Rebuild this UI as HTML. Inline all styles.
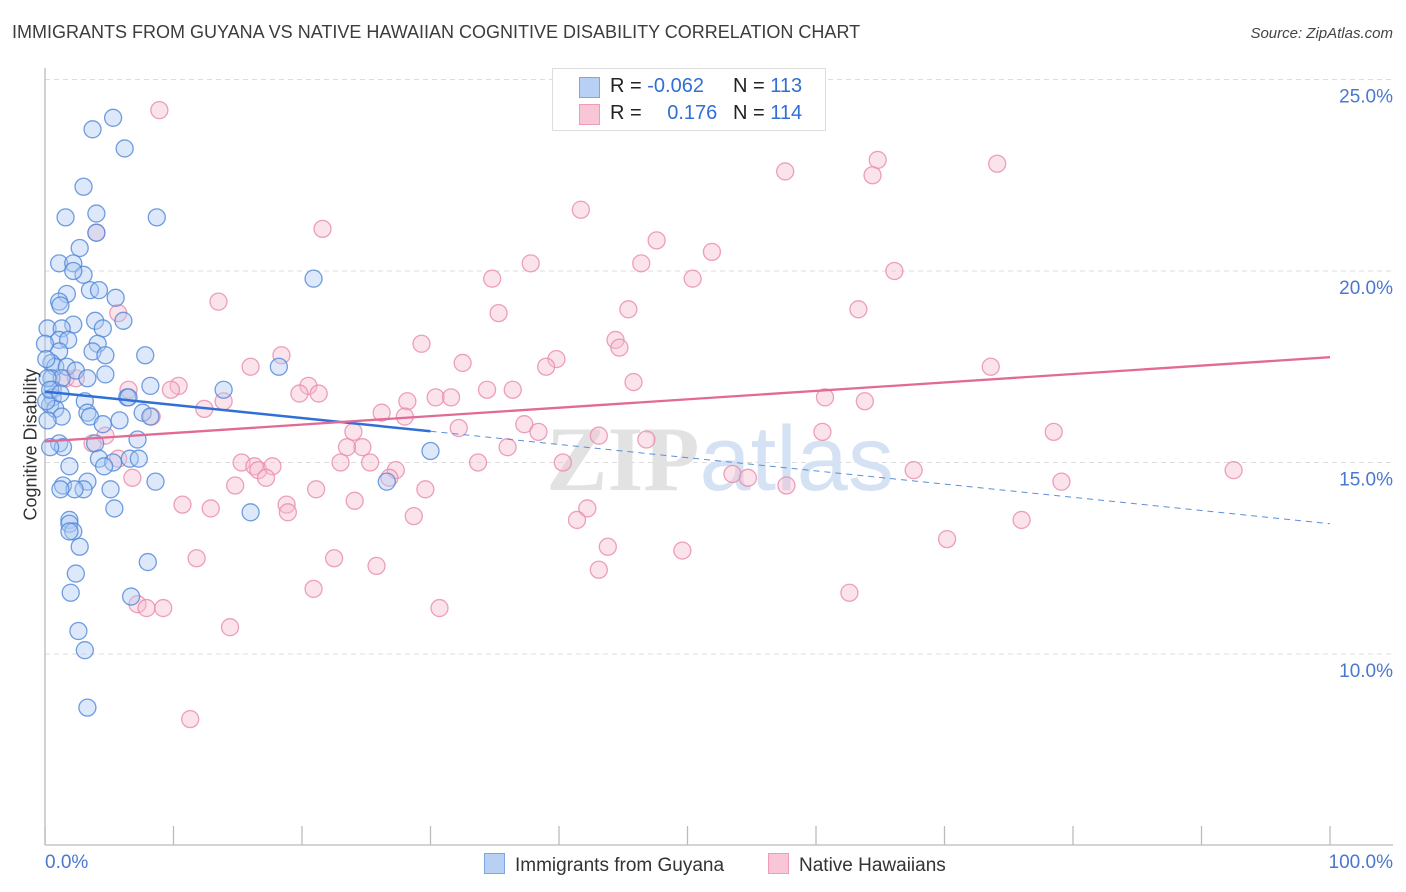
<!DOCTYPE html>
<html><head><meta charset="utf-8"><style>
body{margin:0;background:#fff;font-family:"Liberation Sans",sans-serif;}
#wrap{position:relative;width:1406px;height:892px;overflow:hidden;}
.t{position:absolute;white-space:nowrap;}
</style></head><body>
<div id="wrap">
<div class="t" style="left:12px;top:22px;font-size:18px;color:#3c3c3c;">IMMIGRANTS FROM GUYANA VS NATIVE HAWAIIAN COGNITIVE DISABILITY CORRELATION CHART</div>
<div class="t" style="right:13px;top:25px;font-size:15px;color:#444;font-style:italic;">Source: ZipAtlas.com</div>
<svg id="svg" width="1406" height="892" style="position:absolute;left:0;top:0"></svg>
</div>
<script>
const blueX=[5.3,3.7,6.2,3.0,4.0,1.6,8.7,4.0,2.7,1.1,2.2,3.0,2.2,20.9,3.5,4.2,1.7,5.5,1.1,1.2,3.9,6.1,2.2,4.5,0.2,1.3,1.1,1.8,4.1,3.7,7.8,4.7,1.1,0.5,0.8,1.7,2.4,4.7,3.3,0.5,1.3,18.2,13.9,8.2,0.6,0.6,6.4,6.5,3.1,0.4,0.8,3.3,3.5,7.6,8.2,5.8,4.5,1.3,7.2,3.9,1.1,1.4,0.4,30.0,4.2,5.3,6.6,7.3,4.6,1.9,8.6,3.3,3.0,1.4,2.3,5.1,26.6,1.2,5.4,16.0,1.9,1.9,2.2,1.9,2.7,8.0,2.4,2.0,6.7,2.6,3.1,3.3,0.0,0.2,0.1,0.4,1.2,0.1,0.2];
const blueY=[24.0,23.7,23.2,22.2,21.5,21.4,21.4,21.0,20.6,20.2,20.2,19.9,20.0,19.8,19.5,19.5,19.4,19.3,19.2,19.1,18.7,18.7,18.6,18.5,18.5,18.5,18.2,18.2,18.1,17.9,17.8,17.8,17.9,17.6,17.5,17.5,17.4,17.3,17.2,17.2,17.2,17.5,16.9,17.0,16.9,16.7,16.7,16.7,16.6,16.5,16.4,16.3,16.2,16.3,16.2,16.1,16.0,16.2,15.6,15.5,15.5,15.4,15.4,15.3,15.1,15.0,15.1,15.1,14.9,14.9,14.5,14.5,14.3,14.4,14.3,14.3,14.5,14.3,13.8,13.7,13.5,13.4,13.2,13.2,12.8,12.4,12.1,11.6,11.5,10.6,10.1,8.6,18.1,17.2,16.6,16.9,16.8,17.7,16.1];
const pinkX=[8.9,57.6,64.8,64.4,74.1,41.7,21.6,4.0,47.6,51.9,37.8,46.4,66.1,34.8,50.4,13.5,63.3,35.3,45.4,5.7,29.3,44.4,44.7,18.4,39.8,32.5,16.0,39.0,73.6,10.4,20.5,6.5,34.4,36.4,45.8,1.6,2.4,9.8,19.8,21.3,13.9,28.2,30.4,31.6,60.7,63.8,12.4,26.2,28.0,8.3,37.3,32.2,38.4,24.0,60.5,78.5,43.1,46.8,4.7,3.7,24.7,23.5,36.0,5.7,23.0,15.3,33.7,40.3,25.3,16.3,16.6,17.7,27.3,17.2,26.8,53.5,54.7,67.6,92.5,79.1,6.8,14.8,21.1,18.8,18.9,10.7,12.9,24.1,29.6,28.7,42.2,41.4,76.0,70.2,43.8,49.6,11.8,22.5,25.8,43.1,20.9,62.6,7.2,7.9,9.2,30.7,14.4,11.3,57.7];
const pinkY=[24.2,22.6,22.9,22.5,22.8,21.6,21.1,21.0,20.8,20.5,20.2,20.2,20.0,19.8,19.8,19.2,19.0,18.9,19.0,18.9,18.1,18.2,18.0,17.8,17.7,17.6,17.5,17.5,17.5,17.0,17.0,16.9,16.9,16.9,17.1,17.2,17.2,16.9,16.8,16.8,16.6,16.6,16.7,16.7,16.7,16.6,16.4,16.3,16.2,16.2,16.0,15.9,15.8,15.8,15.8,15.8,15.7,15.6,15.7,15.5,15.4,15.4,15.4,15.1,15.0,15.0,15.0,15.0,15.0,14.9,14.8,14.9,14.8,14.6,14.6,14.7,14.6,14.8,14.8,14.5,14.6,14.4,14.3,13.9,13.7,13.9,13.8,14.0,14.3,13.6,13.8,13.5,13.5,13.0,12.8,12.7,12.5,12.5,12.3,12.2,11.7,11.6,11.3,11.2,11.2,11.2,10.7,8.3,14.4];
const blueTrend=[16.85,13.4]; // value at x=0 and x=100
const blueSolidEnd=30;
const pinkTrend=[15.55,17.75];
const yTicks=[25,20,15,10];
const yTickLabels=["25.0%","20.0%","15.0%","10.0%"];
const xTicks=[0,10,20,30,40,50,60,70,80,90,100];

const NS="http://www.w3.org/2000/svg";
const svg=document.getElementById('svg');
const X0=45,X1=1330,PT=68,PB=845;
const xs=v=>X0+(X1-X0)*v/100;
const ys=v=>654-(v-10)*38.3;
function mk(tag,attrs,parent){const e=document.createElementNS(NS,tag);for(const k in attrs)e.setAttribute(k,attrs[k]);(parent||svg).appendChild(e);return e;}

// gridlines + labels
yTicks.forEach((v,i)=>{
  const g=mk('line',{x1:X0,x2:1393,y1:ys(v),y2:ys(v),stroke:'#dcdcdc','stroke-dasharray':'5,4'});
  
  
  const t=mk('text',{x:1393,y:ys(v)+23,'text-anchor':'end','font-size':19,fill:'#4a78cf','font-family':'Liberation Sans, sans-serif'});
  t.textContent=yTickLabels[i];
  
  
});
// axes
const ya=mk('line',{x1:X0,x2:X0,y1:PT,y2:PB,stroke:'#bbb','stroke-width':1.3});


const xa=mk('line',{x1:X0,x2:1393,y1:PB,y2:PB,stroke:'#bbb','stroke-width':1.3});


xTicks.forEach(v=>{const l=mk('line',{x1:xs(v),x2:xs(v),y1:826,y2:PB,stroke:'#bbb','stroke-width':1.3});
  
  });
// watermark
const wm=mk('text',{x:720,y:490,'text-anchor':'middle','font-size':92,'font-family':'Liberation Serif, serif'});


wm.innerHTML='<tspan fill="#e2e2e2" font-weight="bold">ZIP</tspan><tspan fill="#d4e2f4" font-family="Liberation Sans, sans-serif">atlas</tspan>';

function dots(xsArr,ysArr,fill,stroke,name){
  xsArr.forEach((v,i)=>{const c=mk('circle',{cx:xs(v),cy:ys(ysArr[i]),r:8.5,fill:fill,'fill-opacity':0.42,stroke:stroke,'stroke-opacity':0.8,'stroke-width':1.3});
    
    });
}
dots(pinkX,pinkY,'#f6bccf','#e88aab','pink-point');
dots(blueX,blueY,'#aecbf2','#4f86d8','blue-point');
// trends
const bAt=v=>blueTrend[0]+(blueTrend[1]-blueTrend[0])*v/100;
const bl=mk('line',{x1:xs(0),y1:ys(bAt(0)),x2:xs(blueSolidEnd),y2:ys(bAt(blueSolidEnd)),stroke:'#2f6fd6','stroke-width':2.5});


const bd=mk('line',{x1:xs(blueSolidEnd),y1:ys(bAt(blueSolidEnd)),x2:xs(100),y2:ys(bAt(100)),stroke:'#5b8fd8','stroke-width':1,'stroke-dasharray':'6,5'});


const pl=mk('line',{x1:xs(0),y1:ys(pinkTrend[0]),x2:xs(100),y2:ys(pinkTrend[1]),stroke:'#e26a96','stroke-width':2.3});


</script>
<div class="t" style="left:-34px;top:445px;font-size:18px;color:#333;transform:rotate(-90deg);transform-origin:center;width:130px;text-align:center;">Cognitive Disability</div>
<div class="t" style="left:45px;top:852px;font-size:19px;color:#4a78cf;">0.0%</div>
<div class="t" style="right:13px;top:852px;font-size:19px;color:#4a78cf;">100.0%</div>
<div style="position:absolute;left:552px;top:68px;width:272px;height:61px;border:1px solid #ddd;background:#fff;font-size:20px;color:#222;">
  <div style="position:absolute;left:26px;top:8px;width:19px;height:19px;background:#b7d0f3;border:1px solid #7ea6e2;"></div>
  <div class="t" style="left:57px;top:6px;">R = <span style="color:#2f6fd6">-0.062</span></div>
  <div class="t" style="left:180px;top:6px;">N = <span style="color:#2f6fd6">113</span></div>
  <div style="position:absolute;left:26px;top:35px;width:19px;height:19px;background:#f9c6d6;border:1px solid #ee9cb9;"></div>
  <div class="t" style="left:57px;top:33px;">R = <span style="color:#2f6fd6;margin-left:20px">0.176</span></div>
  <div class="t" style="left:180px;top:33px;">N = <span style="color:#2f6fd6">114</span></div>
</div>
<div style="position:absolute;left:484px;top:853px;font-size:19px;color:#333;">
  <div style="position:absolute;left:0;top:0;white-space:nowrap;"><span style="display:inline-block;width:19px;height:19px;background:#b7d0f3;border:1px solid #7ea6e2;vertical-align:-3px;margin-right:10px"></span>Immigrants from Guyana</div>
  <div style="position:absolute;left:284px;top:0;white-space:nowrap;"><span style="display:inline-block;width:19px;height:19px;background:#f9c6d6;border:1px solid #ee9cb9;vertical-align:-3px;margin-right:10px"></span>Native Hawaiians</div>
</div>
</body></html>
